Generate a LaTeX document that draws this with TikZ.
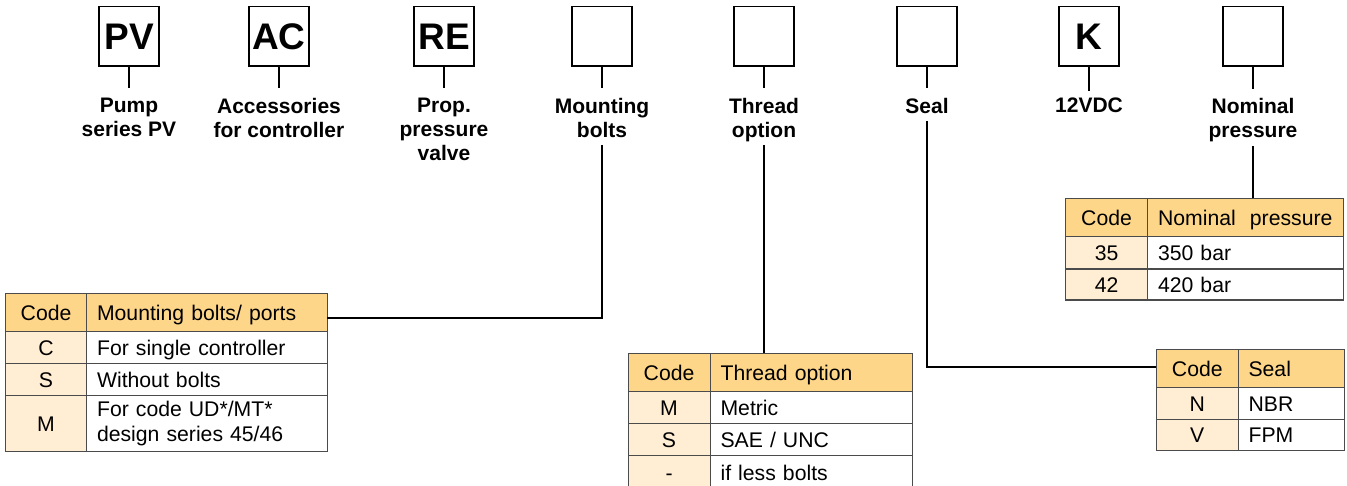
\documentclass[tikz,border=0pt]{standalone}
\usepackage{fontspec}
\setmainfont{Liberation Sans}
\usetikzlibrary{calc}
\definecolor{hdr}{RGB}{253,214,138}
\definecolor{codebg}{RGB}{255,238,212}
\definecolor{bord}{RGB}{75,75,75}
\begin{document}
\begin{tikzpicture}[x=1pt,y=-1pt,
  topbox/.style={draw=black, line width=1.1pt, minimum width=60pt, minimum height=59.5pt, inner sep=0pt, anchor=north, font=\fontsize{37}{40}\selectfont\bfseries},
  lbl/.style={anchor=north, inner sep=0pt, align=center, font=\fontsize{21}{24}\selectfont\bfseries},
  conn/.style={draw=black, line width=1.1pt},
  cell/.style={draw=bord, line width=1.1pt, anchor=north west, inner xsep=10.5pt, inner ysep=0pt, text height=15pt, text depth=0pt, font=\fontsize{21.2}{25}\selectfont},
  cellml/.style={draw=bord, line width=1.1pt, anchor=north west, inner xsep=10.5pt, inner ysep=0pt, font=\fontsize{21.2}{25}\selectfont},
  codec/.style={align=center},
  descc/.style={align=left}
]
\useasboundingbox (0,0) rectangle (1347,486);
\clip (0,0) rectangle (1347,486);

% top boxes
\node[topbox] (b1) at (129,6) {PV};
\node[topbox] (b2) at (279,6) {AC};
\node[topbox] (b3) at (444,6) {RE};
\node[topbox] (b4) at (602,6) {};
\node[topbox] (b5) at (764,6) {};
\node[topbox] (b6) at (927,6) {};
\node[topbox] (b7) at (1089,6) {K};
\node[topbox] (b8) at (1253,6) {};

% labels
\node[lbl] (l1) at (129,98) {Pump\\series PV};
\node[lbl] (l2) at (279,98) {Accessories\\for controller};
\node[lbl] (l3) at (444,98) {Prop.\\pressure\\valve};
\node[lbl] (l4) at (602,98) {Mounting\\bolts};
\node[lbl] (l5) at (764,98) {Thread\\option};
\node[lbl] (l6) at (927,98) {Seal};
\node[lbl] (l7) at (1089,98) {12VDC};
\node[lbl] (l8) at (1253,98) {Nominal\\pressure};

% stubs
\coordinate (s1) at (129,88);
\coordinate (s2) at (279,88);
\coordinate (s3) at (444,88);
\coordinate (s4) at (602,88);
\coordinate (s5) at (764,88);
\coordinate (s6) at (927,88);
\coordinate (s7) at (1089,91);
\coordinate (s8) at (1253,89);
\foreach \i in {1,...,8} {\draw[conn] (b\i.south) -- (s\i);}

% Table 1: mounting bolts
\node[cell, codec, fill=hdr, text width=60pt, minimum height=38pt] (t1hc) at (5,293) {Code};
\node[cell, descc, fill=hdr, text width=220pt, minimum height=38pt] (t1hd) at (86,293) {Mounting bolts/ ports};
\node[cell, codec, fill=codebg, text width=60pt, minimum height=32pt] (t1c1) at (5,331) {C};
\node[cell, descc, fill=white, text width=220pt, minimum height=32pt] (t1d1) at (86,331) {For single controller};
\node[cell, codec, fill=codebg, text width=60pt, minimum height=32pt] (t1c2) at (5,363) {S};
\node[cell, descc, fill=white, text width=220pt, minimum height=32pt] (t1d2) at (86,363) {Without bolts};
\node[cell, codec, fill=codebg, text width=60pt, minimum height=56pt] (t1c3) at (5,395) {M};
\node[cellml, descc, fill=white, text width=220pt, minimum height=56pt] (t1d3) at (86,395) {For code UD*/MT*\\design series 45/46};

% Table 2: thread option
\node[cell, codec, fill=hdr, text width=61pt, minimum height=38pt] (t2hc) at (627.5,353) {Code};
\node[cell, descc, fill=hdr, text width=181.5pt, minimum height=38pt] (t2hd) at (709.5,353) {Thread option};
\node[cell, codec, fill=codebg, text width=61pt, minimum height=32pt] (t2c1) at (627.5,391) {M};
\node[cell, descc, fill=white, text width=181.5pt, minimum height=32pt] (t2d1) at (709.5,391) {Metric};
\node[cell, codec, fill=codebg, text width=61pt, minimum height=32pt] (t2c2) at (627.5,423) {S};
\node[cell, descc, fill=white, text width=181.5pt, minimum height=32pt] (t2d2) at (709.5,423) {SAE / UNC};
\node[cell, codec, fill=codebg, text width=61pt, minimum height=34pt] (t2c3) at (627.5,455) {-};
\node[cell, descc, fill=white, text width=181.5pt, minimum height=34pt] (t2d3) at (709.5,455) {if less bolts};

% Table 3: nominal pressure
\node[cell, codec, fill=hdr, text width=61pt, minimum height=38pt] (t3hc) at (1065,198) {Code};
\node[cell, descc, fill=hdr, text width=175pt, minimum height=38pt] (t3hd) at (1147,198) {Nominal\ \ pressure};
\node[cell, codec, fill=codebg, text width=61pt, minimum height=32.5pt] (t3c1) at (1065,236) {35};
\node[cell, descc, fill=white, text width=175pt, minimum height=32.5pt] (t3d1) at (1147,236) {350 bar};
\node[cell, codec, fill=codebg, text width=61pt, minimum height=31pt] (t3c2) at (1065,268.5) {42};
\node[cell, descc, fill=white, text width=175pt, minimum height=31pt] (t3d2) at (1147,268.5) {420 bar};

% Table 4: seal
\node[cell, codec, fill=hdr, text width=60.5pt, minimum height=38pt] (t4hc) at (1156,349) {Code};
\node[cell, descc, fill=hdr, text width=85.5pt, minimum height=38pt] (t4hd) at (1237.5,349) {Seal};
\node[cell, codec, fill=codebg, text width=60.5pt, minimum height=32pt] (t4c1) at (1156,387) {N};
\node[cell, descc, fill=white, text width=85.5pt, minimum height=32pt] (t4d1) at (1237.5,387) {NBR};
\node[cell, codec, fill=codebg, text width=60.5pt, minimum height=31pt] (t4c2) at (1156,419) {V};
\node[cell, descc, fill=white, text width=85.5pt, minimum height=31pt] (t4d2) at (1237.5,419) {FPM};

% connectors from labels to tables
\coordinate (c4) at (602,145);
\coordinate (e4) at (327,318);
\draw[conn] (c4) |- (e4);
\coordinate (c5) at (764,145);
\draw[conn] (c5) -- (c5 |- t2hd.north);
\coordinate (c6) at (927,121);
\coordinate (e6) at (1156,367);
\draw[conn] (c6) |- (e6);
\coordinate (c8) at (1253,146);
\draw[conn] (c8) -- (c8 |- t3hd.north);
\end{tikzpicture}
\end{document}
